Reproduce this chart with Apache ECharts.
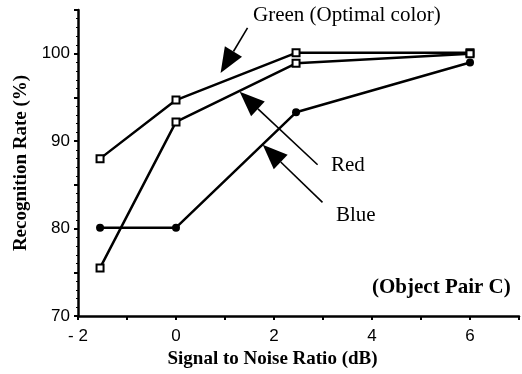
<!DOCTYPE html>
<html><head><meta charset="utf-8">
<script src="https://cdn.jsdelivr.net/npm/echarts@6/dist/echarts.min.js"></script>
<style>html,body{margin:0;padding:0;background:#fff}#c{width:522px;height:374px}</style>
</head><body><div id="c"></div>
<script>
var snr = [-1.55, 0, 2.45, 6];
var greenVals = [88.0, 94.7, 100.1, 100.1];
var redVals = [75.5, 92.2, 98.9, 100.0];
var blueVals = [80.1, 80.1, 93.3, 99.0];
var xTicks = [-2, 0, 2, 4, 6];
var yTicks = [70, 80, 90, 100];
// annotation arrows in data units: [tail, tip]
var greenArrow = [[1.46, 102.95], [0.91, 97.8]];
var redArrow = [[2.89, 87.3], [1.30, 95.65]];
var blueArrow = [[2.99, 83.0], [1.77, 89.6]];

function pairs(xs, ys){ return xs.map(function(x,i){return [x, ys[i]];}); }

var chart = echarts.init(document.getElementById('c'), null, {renderer:'canvas'});
var serif = '"Liberation Serif", "Times New Roman", serif';
var sans = '"Liberation Sans", Arial, sans-serif';
function sq(){ return {type:'line', symbol:'rect', symbolSize:7, lineStyle:{color:'#000', width:2.5}, itemStyle:{color:'#fff', borderColor:'#000', borderWidth:2}, z:3}; }
var option = {
  animation:false,
  backgroundColor:'#fff',
  grid:{left:78, right:3, top:10, bottom:57},
  xAxis:{type:'value', min:-2, max:7, interval:1,
    axisLine:{onZero:false, lineStyle:{color:'#000', width:2.5}},
    axisTick:{show:true, length:4, lineStyle:{color:'#000', width:2}},
    axisLabel:{color:'#000', fontFamily:sans, fontSize:17, margin:12,
      formatter:function(v){ return xTicks.indexOf(v) >= 0 ? (v<0 ? '- ' + Math.abs(v) : String(v)) : ''; }},
    splitLine:{show:false},
    name:'Signal to Noise Ratio (dB)', nameLocation:'middle', nameGap:34,
    nameTextStyle:{color:'#000', fontFamily:serif, fontWeight:'bold', fontSize:19, padding:[0, 52, 0, 0]}
  },
  yAxis:{type:'value', min:70, max:105, interval:5,
    axisLine:{show:true, onZero:false, lineStyle:{color:'#000', width:2.5}},
    axisTick:{show:true, length:4, lineStyle:{color:'#000', width:2}},
    minorTick:{show:true, splitNumber:5, length:2, lineStyle:{color:'#000', width:1}},
    axisLabel:{color:'#000', fontFamily:sans, fontSize:17, margin:8,
      formatter:function(v){ return yTicks.indexOf(v) >= 0 ? String(v) : ''; }},
    splitLine:{show:false},
    name:'Recognition Rate (%)', nameLocation:'middle', nameGap:46, nameRotate:90,
    nameTextStyle:{color:'#000', fontFamily:serif, fontWeight:'bold', fontSize:19}
  },
  series:[
    Object.assign(sq(), {name:'Green', data:pairs(snr, greenVals)}),
    Object.assign(sq(), {name:'Red', data:pairs(snr, redVals)}),
    {type:'line', name:'Blue', data:pairs(snr, blueVals), symbol:'circle', symbolSize:8,
      lineStyle:{color:'#000', width:2.5}, itemStyle:{color:'#000'}, z:3}
  ]
};
chart.setOption(option);

function arrowGraphics(a){
  var t = chart.convertToPixel({gridIndex:0}, a[0]);
  var p = chart.convertToPixel({gridIndex:0}, a[1]);
  var dx = p[0]-t[0], dy = p[1]-t[1], L = Math.sqrt(dx*dx+dy*dy);
  var ux = dx/L, uy = dy/L, nx = -uy, ny = ux;
  var hl = 25, hw = 10;
  var bx = p[0]-ux*hl, by = p[1]-uy*hl;
  return [
    {type:'line', shape:{x1:t[0], y1:t[1], x2:bx, y2:by}, style:{stroke:'#000', lineWidth:1.6}, z:10},
    {type:'polygon', shape:{points:[[p[0],p[1]],[bx+nx*hw, by+ny*hw],[bx-nx*hw, by-ny*hw]]}, style:{fill:'#000'}, z:10}
  ];
}
var g = [].concat(arrowGraphics(greenArrow), arrowGraphics(redArrow), arrowGraphics(blueArrow));
g.push({type:'text', left:253, top:5, style:{text:'Green (Optimal color)', font:'21px ' + serif, fill:'#000'}, z:10});
g.push({type:'text', left:331, top:155, style:{text:'Red', font:'21px ' + serif, fill:'#000'}, z:10});
g.push({type:'text', left:336, top:205, style:{text:'Blue', font:'21px ' + serif, fill:'#000'}, z:10});
g.push({type:'text', left:372, top:277, style:{text:'(Object Pair C)', font:'bold 21px ' + serif, fill:'#000'}, z:10});
chart.setOption({graphic:g});
</script></body></html>
